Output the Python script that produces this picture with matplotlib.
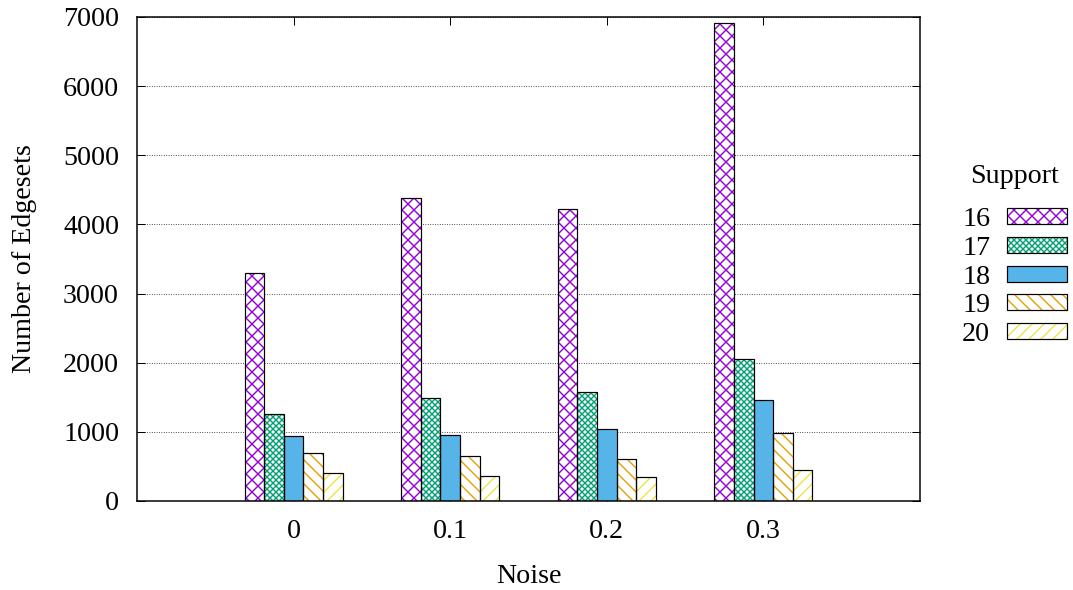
import numpy as np
import matplotlib
matplotlib.use('Agg')
import matplotlib.pyplot as plt
from matplotlib.patches import Patch

plt.rcParams['font.family'] = ['Liberation Serif', 'DejaVu Serif']
plt.rcParams['hatch.linewidth'] = 1.4

# data
noise = ['0', '0.1', '0.2', '0.3']
supports = ['16', '17', '18', '19', '20']
s16 = [3295, 4380, 4230, 6910]
s17 = [1255, 1487, 1571, 2058]
s18 = [937, 957, 1046, 1461]
s19 = [694, 655, 603, 979]
s20 = [400, 357, 342, 448]
series = [s16, s17, s18, s19, s20]

colors = ['#9400d3', '#009e73', '#56b4e9', '#e69f00', '#f0e442']
faces = ['white', 'white', '#56b4e9', 'white', 'white']
hatches = ['xx', 'xxxx', '', '\\\\', '//']

fig = plt.figure(figsize=(1073 / 72, 590 / 72), dpi=72)
ax = fig.add_axes([137 / 1073, 89 / 590, 783 / 1073, 484 / 590])

x = np.arange(len(noise))
width = 0.125
handles = []
for i, vals in enumerate(series):
    off = (i - 2) * width
    ax.bar(x + off, vals, width, color=faces[i], edgecolor=colors[i],
           hatch=hatches[i], linewidth=0, zorder=2)
    ax.bar(x + off, vals, width, fill=False, edgecolor='black',
           linewidth=1.2, zorder=3)
    handles.append((Patch(facecolor=faces[i], edgecolor=colors[i], hatch=hatches[i], linewidth=0),
                    Patch(fill=False, edgecolor='black', linewidth=1.2)))

ax.set_xlim(-1, 4)
ax.set_ylim(0, 7000)
ax.set_xticks(x)
ax.set_xticklabels(noise)
ax.set_yticks(range(0, 7001, 1000))
ax.yaxis.grid(True, linestyle=(0, (1, 2)), color='black', linewidth=0.8, zorder=0)
ax.set_axisbelow(True)
ax.tick_params(direction='in', length=8, width=1, top=True, right=True, labelsize=28)
ax.tick_params(axis='x', pad=18)
ax.tick_params(axis='y', pad=18)
for sp in ax.spines.values():
    sp.set_linewidth(1.5)

ax.set_xlabel('Noise', fontsize=28, labelpad=20)
ax.set_ylabel('Number of Edgesets', fontsize=28, labelpad=26)

leg = fig.legend(handles, supports, title='Support', loc='upper left',
                 bbox_to_anchor=(948 / 1073, 1 - 150 / 590), frameon=False,
                 markerfirst=False, fontsize=28, title_fontsize=28,
                 handlelength=2.15, handleheight=0.5, labelspacing=0.135,
                 handletextpad=0.6, borderpad=0)
leg._legend_box.sep = 18

fig.savefig('out.png', dpi=72)
